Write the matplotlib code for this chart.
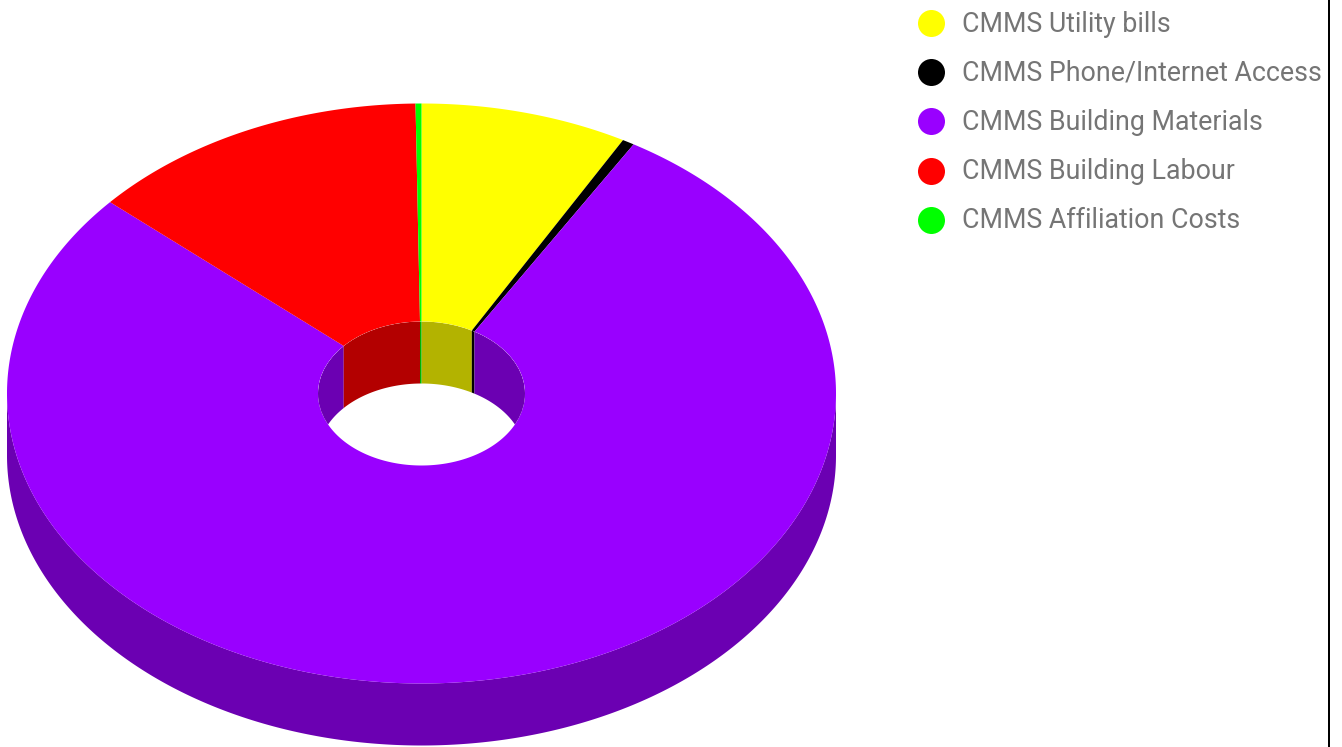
import numpy as np
from matplotlib import pyplot as plt
from matplotlib.patches import Ellipse

# share of total, %, clockwise from 12 o'clock
labels = ['CMMS Utility bills', 'CMMS Phone/Internet Access', 'CMMS Building Materials',
          'CMMS Building Labour', 'CMMS Affiliation Costs']
values = [8.08, 0.47, 77.92, 13.30, 0.23]
colors = ['#ffff00', '#000000', '#9900ff', '#ff0000', '#00ff00']
dark_colors = ['#b3b300', '#000000', '#6b00b2', '#b30000', '#00b300']

W, H = 1342, 747
cx, cy = 421.5, 393.5
rx, ry = 414.5, 290
hole_rx, hole_ry = 103.5, 72
depth = 62


def arc(t0, t1, a, b, y0):
    t = np.linspace(t0, t1, max(int(abs(t1 - t0)) * 2, 2) + 1)
    t = np.radians(t)
    return cx + a * np.sin(t), y0 - b * np.cos(t)


def wall(t0, t1, a, b, color, clip=None):
    # band between the arc and the same arc one depth lower
    x1, y1 = arc(t0, t1, a, b, cy)
    x2, y2 = arc(t1, t0, a, b, cy + depth)
    p = ax.fill(np.r_[x1, x2], np.r_[y1, y2], color=color, lw=0, zorder=3 if clip else 1)[0]
    if clip:
        p.set_clip_path(clip)


fig = plt.figure(figsize=(W / 100, H / 100), dpi=100)
ax = fig.add_axes([0, 0, 1, 1])
ax.set_xlim(0, W)
ax.set_ylim(H, 0)
ax.axis('off')

edges = np.concatenate([[0], np.cumsum(values)]) / sum(values) * 360

# outer wall, front half only
for i in range(len(values)):
    t0, t1 = max(edges[i], 90), min(edges[i + 1], 270)
    if t1 > t0:
        wall(t0, t1, rx, ry, dark_colors[i])

# top face
for i in range(len(values)):
    x1, y1 = arc(edges[i], edges[i + 1], rx, ry, cy)
    x2, y2 = arc(edges[i + 1], edges[i], hole_rx, hole_ry, cy)
    ax.fill(np.r_[x1, x2], np.r_[y1, y2], color=colors[i], lw=0, zorder=2)

# inner wall, back half only, cut to the hole
hole = Ellipse((cx, cy), 2 * hole_rx, 2 * hole_ry, transform=ax.transData, fc='none', ec='none')
ax.add_patch(hole)
for i in range(len(values)):
    for lo, hi in [(0, 90), (270, 360)]:
        t0, t1 = max(edges[i], lo), min(edges[i + 1], hi)
        if t1 > t0:
            wall(t0, t1, hole_rx, hole_ry, dark_colors[i], clip=hole)

# legend
for i, name in enumerate(labels):
    y = 23 + i * 49.2
    ax.scatter([930.5], [y], s=378, color=colors[i], linewidths=0, zorder=4)
    ax.text(962.5, y + 8.5, name, family='Roboto', fontsize=19.3, color='#757575', ha='left', va='baseline')

# strip at the right edge of the screenshot
ax.axvspan(1328, 1330, color='black', lw=0)

fig.savefig('out.png', dpi=100, facecolor='white')
